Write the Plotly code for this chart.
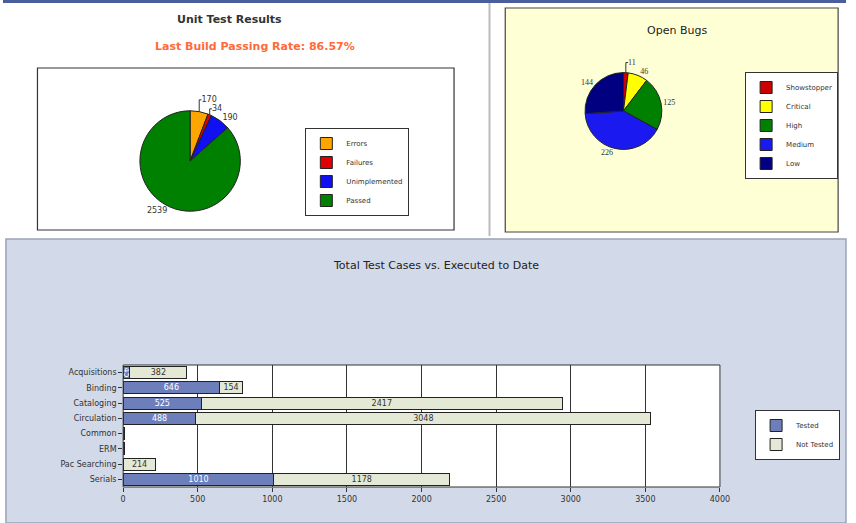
import plotly.graph_objects as go

W, H = 856, 523

# ---- data ----
unit_labels = ["Errors", "Failures", "Unimplemented", "Passed"]
unit_values = [170, 34, 190, 2539]
unit_colors = ["#FFA500", "#E00000", "#1010F0", "#008000"]

bug_labels = ["Showstopper", "Critical", "High", "Medium", "Low"]
bug_values = [11, 46, 125, 226, 144]
bug_colors = ["#CC0000", "#FFFF00", "#008000", "#1A1AF0", "#000080"]

areas = ["Acquisitions", "Binding", "Cataloging", "Circulation", "Common", "ERM", "Pac Searching", "Serials"]
tested = [45, 646, 525, 488, 0, 0, 3, 1010]
not_tested = [382, 154, 2417, 3048, 8, 8, 214, 1178]
x_ticks = [0, 500, 1000, 1500, 2000, 2500, 3000, 3500, 4000]

FONT = "DejaVu Sans"


def px(x):
    return x / W


def py(y):
    return 1 - y / H


fig = go.Figure()

# Unit test pie
fig.add_trace(go.Pie(
    labels=unit_labels, values=unit_values, marker=dict(colors=unit_colors, line=dict(color="#222", width=1)),
    sort=False, direction="clockwise", rotation=0, textinfo="value", textposition="outside",
    textfont=dict(size=8, color="#333", family=FONT),
    domain=dict(x=[px(139), px(241)], y=[py(212), py(110)]),
    legend="legend", showlegend=True, hoverinfo="label+value",
))

# Open bugs pie
fig.add_trace(go.Pie(
    labels=bug_labels, values=bug_values, marker=dict(colors=bug_colors, line=dict(color="#222", width=1)),
    sort=False, direction="clockwise", rotation=0, textinfo="value", textposition="outside",
    textfont=dict(size=8, color="#333", family="Liberation Serif"),
    domain=dict(x=[px(591), px(669)], y=[py(150), py(72)]),
    legend="legend2", showlegend=True,
))

# Bars
fig.add_trace(go.Bar(
    y=areas, x=tested, orientation="h", name="Tested",
    marker=dict(color="#6D7FBA", line=dict(color="#222", width=1)),
    text=[str(v) if v >= 40 else "" for v in tested], textposition="inside", insidetextanchor="middle",
    constraintext="none",
    textfont=dict(size=8, color="white", family=FONT),
    xaxis="x", yaxis="y", legend="legend3",
))
fig.add_trace(go.Bar(
    y=areas, x=not_tested, orientation="h", name="Not Tested",
    marker=dict(color="#E4E9D6", line=dict(color="#222", width=1)),
    text=[str(v) if v >= 40 else "" for v in not_tested], textposition="inside", insidetextanchor="middle",
    constraintext="none",
    textfont=dict(size=8, color="#333", family=FONT),
    xaxis="x", yaxis="y", legend="legend3",
))

shapes = [
    # top blue line
    dict(type="rect", xref="paper", yref="paper", x0=0, x1=1, y0=py(3), y1=1,
         fillcolor="#4A5E9E", line=dict(width=0), layer="below"),
    # yellow panel
    dict(type="rect", xref="paper", yref="paper", x0=px(510), x1=px(848), y0=py(232), y1=py(8),
         fillcolor="#FFFFD6", line=dict(color="#444", width=1.2), layer="below"),
    # left frame separator
    dict(type="line", xref="paper", yref="paper", x0=px(494), x1=px(494), y0=py(236), y1=py(3),
         line=dict(color="#BBBBBB", width=2), layer="below"),
    # unit test chart box
    dict(type="rect", xref="paper", yref="paper", x0=px(35), x1=px(458), y0=py(230), y1=py(68),
         fillcolor="white", line=dict(color="#333", width=1.2), layer="below"),
    # bottom panel
    dict(type="rect", xref="paper", yref="paper", x0=px(3), x1=1, y0=0, y1=py(239),
         fillcolor="#D2D9E8", line=dict(color="#9AA3B8", width=1.5), layer="below"),
    # bar plot area
    dict(type="rect", xref="paper", yref="paper", x0=px(122), x1=px(728), y0=py(487), y1=py(365),
         fillcolor="white", line=dict(color="#333", width=1), layer="below"),
]

annotations = [
    dict(text="<b>Unit Test Results</b>", x=px(230), y=py(20), xref="paper", yref="paper",
         xanchor="center", yanchor="middle",
         showarrow=False, font=dict(size=11, color="#333", family=FONT)),
    dict(text="<b>Last Build Passing Rate: 86.57%</b>", x=px(256), y=py(46), xref="paper", yref="paper",
         xanchor="center", yanchor="middle",
         showarrow=False, font=dict(size=11, color="#FF6A3A", family=FONT)),
    dict(text="Open Bugs", x=px(684), y=py(30), xref="paper", yref="paper",
         xanchor="center", yanchor="middle",
         showarrow=False, font=dict(size=11, color="#222", family=FONT)),
    dict(text="Total Test Cases vs. Executed to Date", x=px(440), y=py(265), xref="paper", yref="paper",
         xanchor="center", yanchor="middle",
         showarrow=False, font=dict(size=11, color="#222", family=FONT)),
]

leg_common = dict(yanchor="top", bgcolor="white", bordercolor="#333", borderwidth=1,
                  font=dict(size=7, color="#333"), itemwidth=30, tracegroupgap=0)

fig.update_layout(
    width=W, height=H, margin=dict(l=0, r=0, t=0, b=0),
    paper_bgcolor="white", plot_bgcolor="rgba(0,0,0,0)",
    barmode="stack", bargap=0.2,
    font=dict(family=FONT, size=9, color="#333"),
    shapes=shapes, annotations=annotations,
    xaxis=dict(domain=[px(122), px(728)], range=[0, 4000], tickvals=x_ticks,
               showgrid=True, gridcolor="#333", gridwidth=1, zeroline=False,
               ticks="outside", ticklen=4, tickcolor="#333", showline=False,
               tickfont=dict(size=8, color="#333"), anchor="y", fixedrange=True),
    yaxis=dict(domain=[py(487), py(365)], autorange="reversed", categoryorder="array",
               categoryarray=areas, showgrid=False, ticks="outside", ticklen=4, tickcolor="#333",
               tickfont=dict(size=8, color="#333"), anchor="x", fixedrange=True),
    legend=dict(x=px(307), y=py(128), xanchor="left", **leg_common),
    legend2=dict(x=px(848), y=py(72), xanchor="right", **leg_common),
    legend3=dict(x=px(850), y=py(410), xanchor="right", traceorder="normal", **leg_common),
)

fig.write_html("out.html")
